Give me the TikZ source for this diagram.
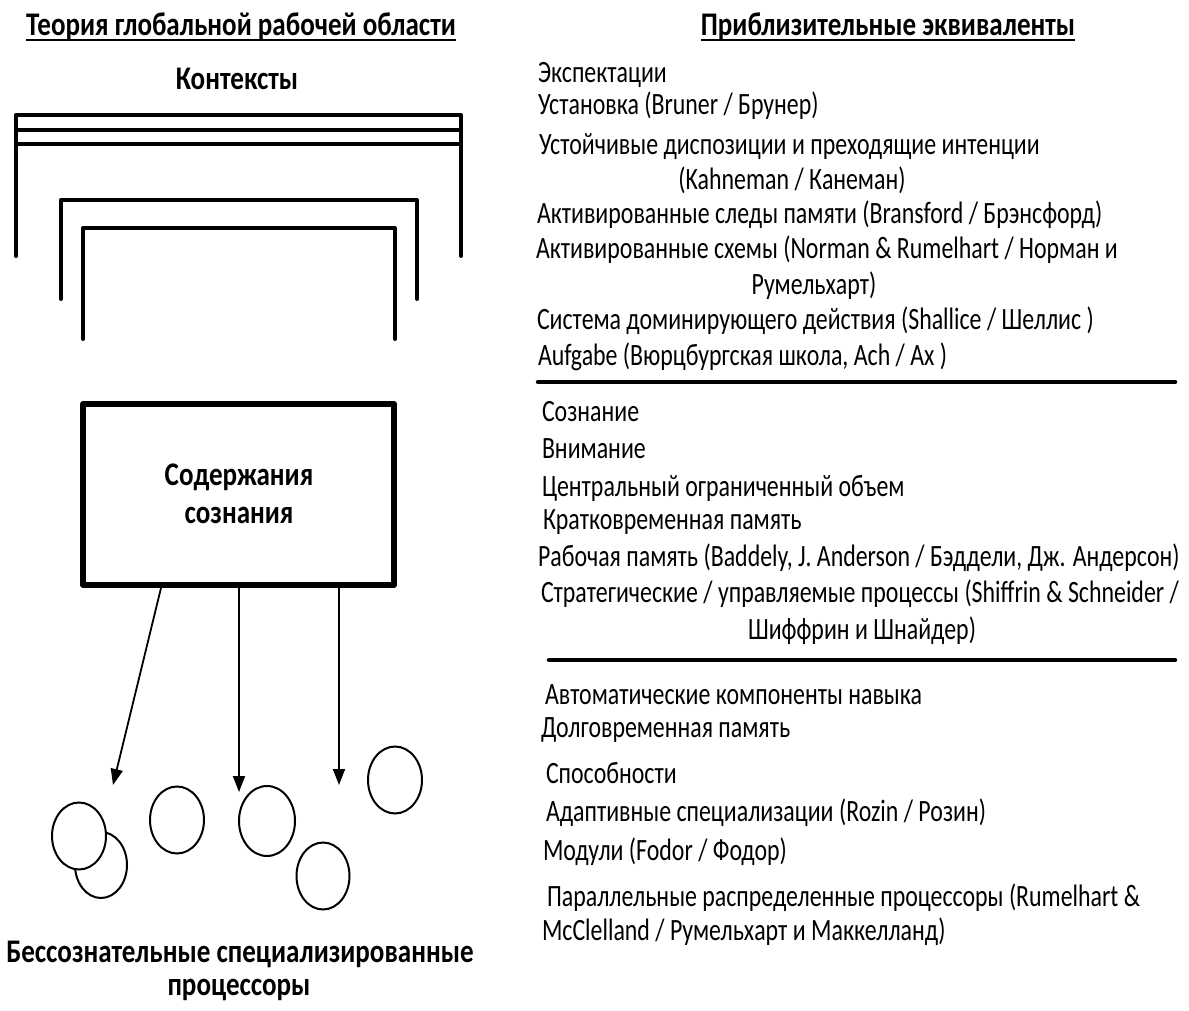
\documentclass[tikz,border=0pt]{standalone}
\usepackage{fontspec}
\setmainfont{Carlito}[FakeStretch=0.77]
\newfontfamily\headfont{Carlito}[FakeStretch=0.82]
\usetikzlibrary{arrows.meta,shapes.geometric}

\tikzset{
  every node/.style={inner sep=0pt, outer sep=0pt},
  item/.style={anchor=west, font=\fontsize{31}{36}\selectfont},
  itemc/.style={anchor=center, font=\fontsize{31}{36}\selectfont},
  head/.style={anchor=center, font=\headfont\fontsize{33}{38}\selectfont\bfseries},
  bracket/.style={line width=4, line cap=round, line join=round},
  sep/.style={line width=4.5, line cap=round},
  flow/.style={line width=1.8, -{Triangle[length=16,width=12]}},
  proc/.style={ellipse, draw, line width=2, fill=white},
  ul/.style={line width=1.8}
}

\begin{document}
\begin{tikzpicture}[x=1pt, y=-1pt]
\useasboundingbox (0,0) rectangle (1189,1011);

% column headings
\node[head] (h1) at (241,27) {Теория глобальной рабочей области};
\node[head] (h2) at (888,27) {Приблизительные эквиваленты};
\draw[ul] ([yshift=-4]h1.base west) -- ([yshift=-4]h1.base east);
\draw[ul] ([yshift=-4]h2.base west) -- ([yshift=-4]h2.base east);

% contexts
\node[head] (ctx) at (237,79) {Контексты};
\draw[bracket] (16,256) -- (16,115) -- (461,115) -- (461,256);
\draw[bracket] (16,130) -- (461,130);
\draw[bracket] (16,144) -- (461,144);
\draw[bracket] (61,299) -- (61,200) -- (417,200) -- (417,299);
\draw[bracket] (83,339) -- (83,228) -- (395,228) -- (395,339);

% contents of consciousness
\node[draw, line width=6, line join=round, minimum width=311, minimum height=181] (box) at (238.5,494.5) {};
\node[head] (c1) at (239,477) {Содержания};
\node[head] (c2) at (239,515) {сознания};

% specialized processors
\node[proc, minimum width=52, minimum height=66] (p2) at (101,865) {};
\node[proc, minimum width=54, minimum height=67] (p1) at (79,836) {};
\node[proc, minimum width=54, minimum height=67] (p3) at (177,820) {};
\node[proc, minimum width=56, minimum height=70] (p4) at (267,821) {};
\node[proc, minimum width=53, minimum height=67] (p5) at (323,876) {};
\node[proc, minimum width=54, minimum height=67] (p6) at (395,780) {};

\coordinate (a1) at (113,785);
\coordinate (a2) at (239,792);
\coordinate (a3) at (339,785);
\draw[flow] (box.south -| 161,0) ++(0,3) -- (a1);
\draw[flow] (box.south -| a2) -- (a2);
\draw[flow] (box.south -| a3) ++(0,3) -- (a3);

\node[head] (u1) at (240,954) {Бессознательные специализированные};
\node[head] (u2) at (239,990) {процессоры};

% equivalents: contexts
\node[item] (r1) at (538,75) {Экспектации};
\node[item] (r2) at (538,106) {Установка (Bruner / Брунер)};
\node[item] (r3) at (539,147) {Устойчивые диспозиции и преходящие интенции};
\node[itemc] (r3b) at (792,180) {(Kahneman / Канеман)};
\node[item] (r4) at (537,215) {Активированные следы памяти (Bransford / Брэнсфорд)};
\node[item] (r5) at (536,250) {Активированные схемы (Norman \& Rumelhart / Норман и};
\node[itemc] (r5b) at (814,286) {Румельхарт)};
\node[item] (r6) at (537,321) {Система доминирующего действия (Shallice / Шеллис )};
\node[item] (r7) at (538,357) {Aufgabe (Вюрцбургская школа, Ach / Ax )};
\coordinate (s1a) at (538,382);
\coordinate (s1b) at (1175,382);
\draw[sep] (s1a) -- (s1b);

% equivalents: conscious contents
\node[item] (m1) at (542,412) {Сознание};
\node[item] (m2) at (542,449) {Внимание};
\node[item] (m3) at (542,488) {Центральный ограниченный объем};
\node[item] (m4) at (543,522) {Кратковременная память};
\node[item] (m5) at (538,558) {Рабочая память (Baddely, J. Anderson / Бэддели, Дж. Андерсон)};
\node[item] (m6) at (541,594) {Стратегические / управляемые процессы (Shiffrin \& Schneider /};
\node[itemc] (m6b) at (862,631) {Шиффрин и Шнайдер)};
\coordinate (s2a) at (549,660);
\coordinate (s2b) at (1175,660);
\draw[sep] (s2a) -- (s2b);

% equivalents: unconscious processors
\node[item] (b1) at (545,695) {Автоматические компоненты навыка};
\node[item] (b2) at (541,730) {Долговременная память};
\node[item] (b3) at (546,773) {Способности};
\node[item] (b4) at (546,813) {Адаптивные специализации (Rozin / Розин)};
\node[item] (b5) at (543,852) {Модули (Fodor / Фодор)};
\node[item] (b6) at (547,898) {Параллельные распределенные процессоры (Rumelhart \&};
\node[item] (b7) at (542,932) {McClelland / Румельхарт и Маккелланд)};
\end{tikzpicture}
\end{document}
